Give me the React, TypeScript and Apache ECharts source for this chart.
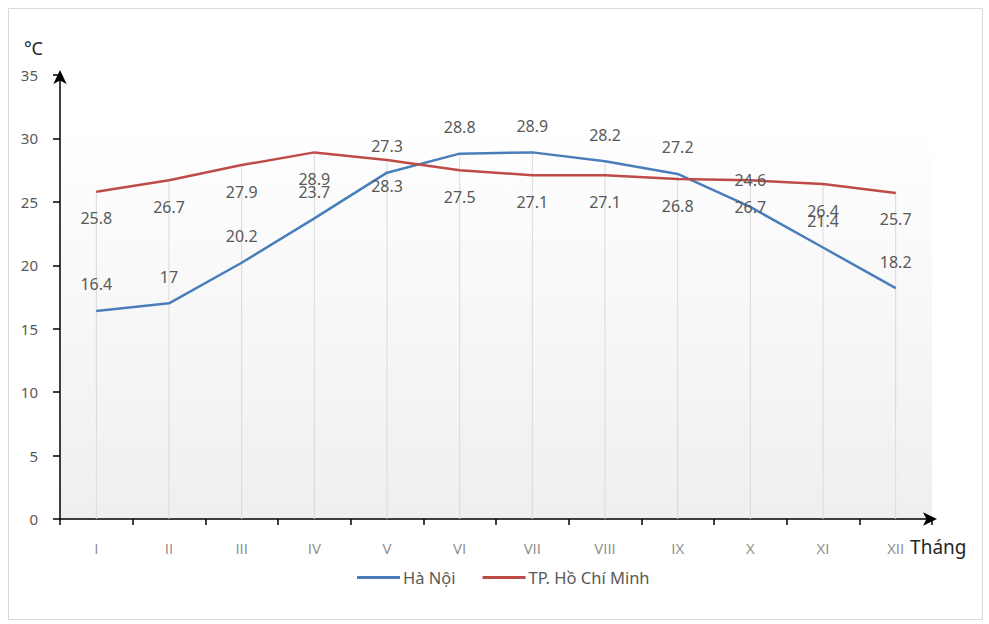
import React, { useEffect, useRef } from "react";
import * as echarts from "echarts";

const months = ["I", "II", "III", "IV", "V", "VI", "VII", "VIII", "IX", "X", "XI", "XII"];
const hanoi = [16.4, 17, 20.2, 23.7, 27.3, 28.8, 28.9, 28.2, 27.2, 24.6, 21.4, 18.2];
const hcm = [25.8, 26.7, 27.9, 28.9, 28.3, 27.5, 27.1, 27.1, 26.8, 26.7, 26.4, 25.7];
const seriesNames = ["Hà Nội", "TP. Hồ Chí Minh"];
const yTicks = { min: 0, max: 35, interval: 5 };

export default function App() {
  const ref = useRef<HTMLDivElement>(null);
  useEffect(() => {
    if (!ref.current) return;
    const chart = echarts.init(ref.current, undefined, { renderer: "svg" });
    const dropLines = hanoi.map((v, i) => Math.max(v, hcm[i]));
    const font = "'Noto Sans', 'Open Sans', sans-serif";
    chart.setOption({
      animation: false,
      backgroundColor: "#ffffff",
      graphic: [
        {
          type: "rect",
          shape: { x: 8.5, y: 8.5, width: 974, height: 611 },
          style: { fill: "none", stroke: "#d9d9d9", lineWidth: 1 },
          z: -10,
        },
      ],
      grid: {
        left: 60,
        right: 57,
        top: 75,
        bottom: 105,
        show: true,
        borderWidth: 0,
        backgroundColor: {
          type: "linear",
          x: 0,
          y: 0,
          x2: 0,
          y2: 1,
          colorStops: [
            { offset: 0, color: "#ffffff" },
            { offset: 0.1, color: "#ffffff" },
            { offset: 1, color: "#efefef" },
          ],
        },
      },
      legend: {
        data: seriesNames,
        bottom: 33,
        left: 352,
        icon: "rect",
        itemWidth: 43,
        itemHeight: 3,
        itemGap: 27,
        textStyle: { color: "#595959", fontSize: 16.5, fontFamily: font, padding: [0, 0, 0, -2] },
      },
      xAxis: {
        type: "category",
        data: months,
        boundaryGap: true,
        name: "Tháng",
        nameLocation: "end",
        nameGap: 0,
        nameTextStyle: {
          color: "#262626",
          fontSize: 19,
          fontFamily: font,
          align: "left",
          verticalAlign: "top",
          padding: [18, 0, 0, -22],
        },
        axisLine: {
          show: true,
          lineStyle: { color: "#000000", width: 1.5 },
          symbol: ["none", "arrow"],
          symbolSize: [10, 14],
          symbolOffset: [0, 5],
        },
        axisTick: { show: true, interval: 0, length: 6, lineStyle: { color: "#000000", width: 1.5 } },
        axisLabel: {
          interval: 0,
          color: "#8c8c8c",
          fontSize: 15,
          fontFamily: "'Open Sans', 'Noto Sans', sans-serif",
          margin: 21,
        },
        splitLine: { show: false },
      },
      yAxis: {
        type: "value",
        min: yTicks.min,
        max: yTicks.max,
        interval: yTicks.interval,
        name: "°C",
        nameLocation: "end",
        nameGap: 18,
        nameTextStyle: {
          color: "#262626",
          fontSize: 18,
          fontFamily: font,
          align: "right",
          padding: [0, 17, 0, 0],
        },
        axisLine: {
          show: true,
          lineStyle: { color: "#000000", width: 1.5 },
          symbol: ["none", "arrow"],
          symbolSize: [10, 14],
          symbolOffset: [0, 5],
        },
        axisTick: { show: true, length: 7, lineStyle: { color: "#000000", width: 1.5 } },
        axisLabel: { color: "#595959", fontSize: 15, fontFamily: font, margin: 22 },
        splitLine: { show: false },
      },
      series: [
        {
          type: "bar",
          name: "drop",
          data: dropLines,
          barWidth: 1,
          itemStyle: { color: "#d9d9d9" },
          silent: true,
          z: 1,
        },
        {
          type: "line",
          name: seriesNames[0],
          data: hanoi,
          showSymbol: true,
          symbol: "circle",
          symbolSize: 1,
          lineStyle: { color: "#4a7ebb", width: 2.5 },
          itemStyle: { color: "#4a7ebb" },
          label: {
            show: true,
            position: "top",
            distance: 18,
            color: "#595959",
            fontSize: 16,
            fontFamily: font,
          },
          z: 3,
        },
        {
          type: "line",
          name: seriesNames[1],
          data: hcm,
          showSymbol: true,
          symbol: "circle",
          symbolSize: 1,
          lineStyle: { color: "#be4b48", width: 2.5 },
          itemStyle: { color: "#be4b48" },
          label: {
            show: true,
            position: "bottom",
            distance: 18,
            color: "#595959",
            fontSize: 16,
            fontFamily: font,
          },
          z: 3,
        },
      ],
    });
    return () => chart.dispose();
  }, []);
  return (
    <div
      ref={ref}
      style={{ position: "fixed", left: 0, top: 0, width: 989, height: 624 }}
    />
  );
}
